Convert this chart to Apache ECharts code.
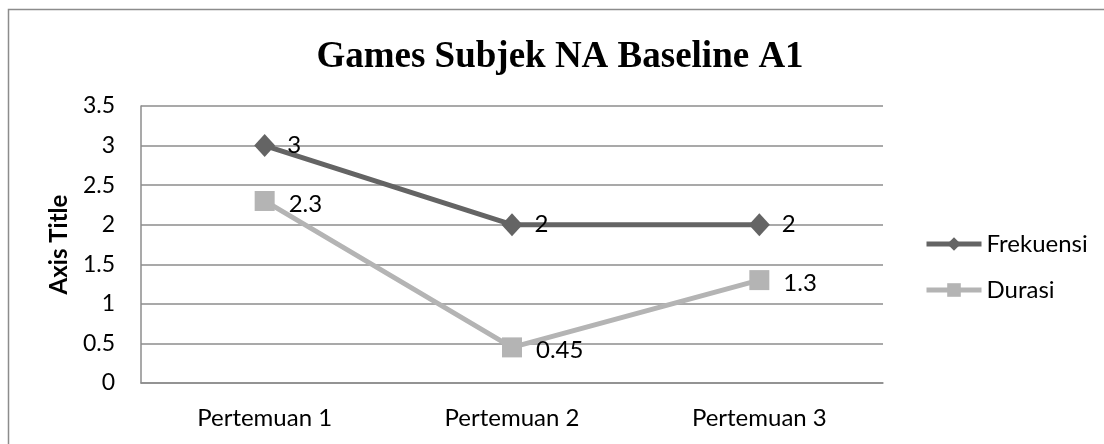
<!DOCTYPE html>
<html>
<head>
<meta charset="utf-8">
<script src="https://cdn.jsdelivr.net/npm/echarts@6/dist/echarts.min.js"></script>
<style>
  html, body { margin: 0; padding: 0; background: #ffffff; }
  #chart { width: 1104px; height: 444px; }
</style>
</head>
<body>
<div id="chart"></div>
<script>
// Meetings on the category axis
const categories = ['Pertemuan 1', 'Pertemuan 2', 'Pertemuan 3'];
// Values per meeting
const frekuensi = [3, 2, 2];
const durasi = [2.3, 0.45, 1.3];
// Value axis range
const yMin = 0;
const yMax = 3.5;
const yStep = 0.5;

const textFont = 'Lato, "Noto Sans", sans-serif';

const chart = echarts.init(document.getElementById('chart'), null, { renderer: 'canvas' });

chart.setOption({
  backgroundColor: '#ffffff',
  animation: false,
  graphic: [{
    type: 'rect',
    shape: { x: 8.5, y: 9.5, width: 1200, height: 500 },
    style: { fill: 'none', stroke: '#8c8c8c', lineWidth: 1.5 },
    silent: true,
    z: -1
  }],
  title: {
    text: 'Games Subjek NA Baseline A1',
    left: 555,
    textAlign: 'center',
    top: 34,
    textStyle: {
      fontFamily: '"Liberation Serif", "Times New Roman", serif',
      fontWeight: 'bold',
      fontSize: 37,
      color: '#000000'
    }
  },
  legend: {
    orient: 'vertical',
    left: 919,
    top: 227,
    itemWidth: 55,
    itemHeight: 17,
    itemGap: 22,
    lineStyle: { width: 5 },
    textStyle: { fontFamily: textFont, fontSize: 24, color: '#000000' },
    data: ['Frekuensi', 'Durasi']
  },
  grid: { left: 141, right: 221, top: 106, bottom: 61, containLabel: false },
  xAxis: {
    type: 'category',
    data: categories,
    boundaryGap: true,
    axisLine: { show: true, lineStyle: { color: '#8c8c8c', width: 1.5 } },
    axisTick: { show: false },
    axisLabel: { fontFamily: textFont, fontSize: 24, color: '#000000', margin: 23 }
  },
  yAxis: {
    type: 'value',
    min: yMin,
    max: yMax,
    interval: yStep,
    name: 'Axis Title',
    nameLocation: 'middle',
    nameRotate: 90,
    nameGap: 70,
    nameTextStyle: { fontFamily: textFont, fontSize: 24, fontWeight: 'bold', color: '#000000' },
    axisLine: { show: true, lineStyle: { color: '#8c8c8c', width: 1.5 } },
    axisTick: { show: false },
    axisLabel: { fontFamily: textFont, fontSize: 23, color: '#000000', margin: 26 },
    splitLine: { show: true, lineStyle: { color: '#8c8c8c', width: 1.5 } }
  },
  series: [
    {
      name: 'Frekuensi',
      type: 'line',
      data: frekuensi,
      symbol: 'diamond',
      symbolSize: [21, 23],
      lineStyle: { color: '#646464', width: 5 },
      itemStyle: { color: '#646464' },
      label: {
        show: true,
        position: 'right',
        distance: 12,
        fontFamily: textFont,
        fontSize: 24,
        color: '#000000'
      },
      z: 3
    },
    {
      name: 'Durasi',
      type: 'line',
      data: durasi,
      symbol: 'rect',
      symbolSize: 20,
      lineStyle: { color: '#b4b4b4', width: 5 },
      itemStyle: { color: '#b4b4b4' },
      label: {
        show: true,
        position: 'right',
        distance: 14,
        fontFamily: textFont,
        fontSize: 24,
        color: '#000000',
        offset: [0, 3]
      },
      z: 2
    }
  ]
});
</script>
</body>
</html>
